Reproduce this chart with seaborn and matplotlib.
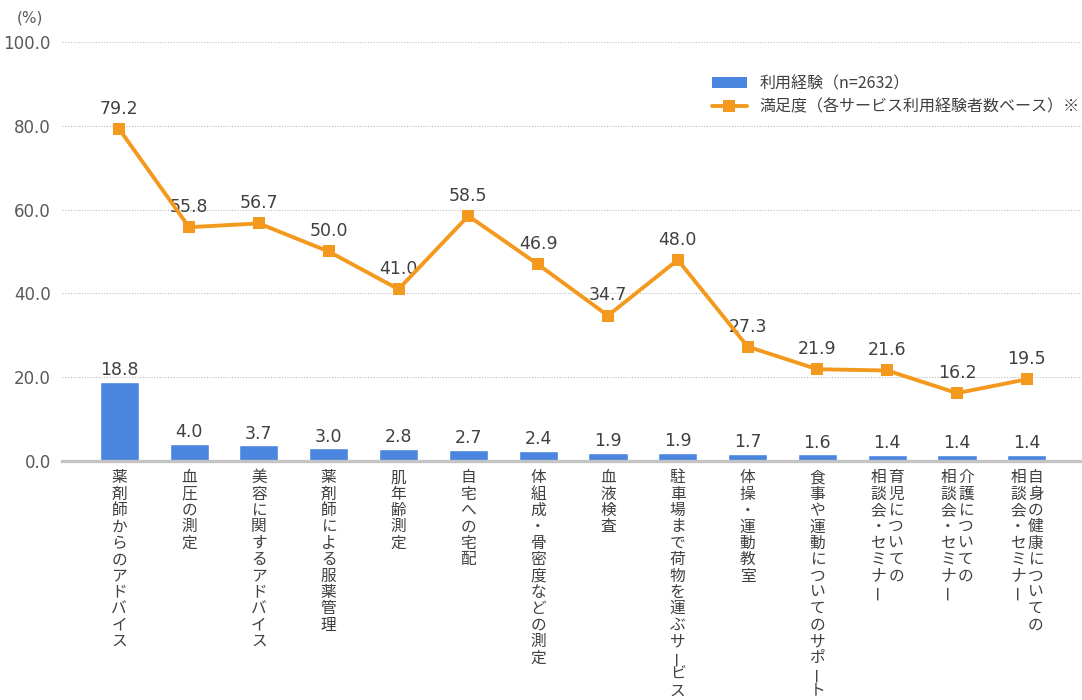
import numpy as np
import pandas as pd
import matplotlib
matplotlib.use("Agg")
import matplotlib.pyplot as plt
import seaborn as sns
from matplotlib.lines import Line2D
from matplotlib.patches import Patch

# Pharmacy services: usage rate and satisfaction among users (%)
services = [
    "薬剤師からのアドバイス",
    "血圧の測定",
    "美容に関するアドバイス",
    "薬剤師による服薬管理",
    "肌年齢測定",
    "自宅への宅配",
    "体組成・骨密度などの測定",
    "血液検査",
    "駐車場まで荷物を運ぶサービス",
    "体操・運動教室",
    "食事や運動についてのサポート",
    "育児についての\n相談会・セミナー",
    "介護についての\n相談会・セミナー",
    "自身の健康についての\n相談会・セミナー",
]
usage = [18.8, 4.0, 3.7, 3.0, 2.8, 2.7, 2.4, 1.9, 1.9, 1.7, 1.6, 1.4, 1.4, 1.4]
satisfaction = [79.2, 55.8, 56.7, 50.0, 41.0, 58.5, 46.9, 34.7, 48.0, 27.3, 21.9, 21.6, 16.2, 19.5]
y_ticks = [0, 20, 40, 60, 80, 100]
usage_label = "利用経験（n=2632）"
satisfaction_label = "満足度（各サービス利用経験者数ベース）※"
unit_label = "(%)"

BAR_COLOR = "#4A86DF"
LINE_COLOR = "#F39A1E"
TEXT_COLOR = "#404040"
TICK_COLOR = "#595959"

sns.set_theme(style="white")
plt.rcParams["font.family"] = ["Noto Sans CJK JP", "DejaVu Sans"]

df = pd.DataFrame({"service": services, "usage": usage,
                   "satisfaction": satisfaction, "pos": np.arange(len(services))})

fig = plt.figure(figsize=(10.82, 7.0), dpi=100)
ax = fig.add_axes([62 / 1082, 239 / 700, 1020 / 1082, 419 / 700])

sns.barplot(data=df, x="pos", y="usage", color=BAR_COLOR, width=0.56,
            saturation=1, ax=ax, native_scale=True, zorder=3)
sns.lineplot(data=df, x="pos", y="satisfaction", color=LINE_COLOR, linewidth=2.8,
             marker="s", markersize=8, markeredgewidth=0, ax=ax, zorder=4)

ax.set_xlim(-0.82, 13.79)
ax.set_ylim(0, 100)
ax.set_yticks(y_ticks)
ax.set_yticklabels([f"{v:.1f}" for v in y_ticks], fontsize=12, color=TICK_COLOR,
                   family=["DejaVu Sans"])
ax.tick_params(axis="y", length=0, pad=8)
ax.set_xticks([])
ax.set_xlabel("")
ax.set_ylabel("")
for y in y_ticks[1:]:
    ax.axhline(y, color="#BDBDBD", linewidth=0.8, linestyle=(0, (1, 1.5)), zorder=1)
for side in ["top", "right", "left"]:
    ax.spines[side].set_visible(False)
ax.spines["bottom"].set_color("#C4C4C4")
ax.spines["bottom"].set_linewidth(2.4)
ax.spines["bottom"].set_zorder(5)

# Value labels
for i, v in enumerate(usage):
    ax.annotate(f"{v:.1f}", xy=(i, v), xytext=(0, 2), textcoords="offset points",
                ha="center", va="bottom", fontsize=12.5, color=TEXT_COLOR,
                family=["DejaVu Sans"])
for i, v in enumerate(satisfaction):
    ax.annotate(f"{v:.1f}", xy=(i, v), xytext=(0, 8), textcoords="offset points",
                ha="center", va="bottom", fontsize=12.5, color=TEXT_COLOR,
                family=["DejaVu Sans"])

# Category names in vertical writing (columns read right to left)
def draw_vertical(ax, x, text, step_pt=11.8, col_gap_pt=12.8, first_pt=-12.0):
    cols = text.split("\n")
    n = len(cols)
    for ci, col in enumerate(cols):
        dx = ((n - 1) / 2 - ci) * col_gap_pt
        for ri, ch in enumerate(col):
            ax.annotate(ch, xy=(x, 0), xycoords=("data", "axes fraction"),
                        xytext=(dx, first_pt - ri * step_pt), textcoords="offset points",
                        ha="center", va="center", fontsize=11.3, color=TEXT_COLOR,
                        rotation=90 if ch == "ー" else 0, annotation_clip=False)

for i, name in enumerate(services):
    draw_vertical(ax, i, name)

fig.text(30 / 1082, 1 - 18 / 700, unit_label, ha="center", va="center",
         fontsize=11, color=TICK_COLOR, family=["DejaVu Sans"])

handles = [
    Patch(facecolor=BAR_COLOR, edgecolor="none"),
    Line2D([0], [0], color=LINE_COLOR, linewidth=2.8, marker="s", markersize=8,
           markeredgewidth=0),
]
ax.legend(handles, [usage_label, satisfaction_label], loc="upper right",
          bbox_to_anchor=(1.012, 0.955), frameon=False, fontsize=11.5,
          labelcolor=TEXT_COLOR, handlelength=2.2, handleheight=0.7,
          handletextpad=0.8, labelspacing=0.4)

fig.savefig("out.png", dpi=100)
